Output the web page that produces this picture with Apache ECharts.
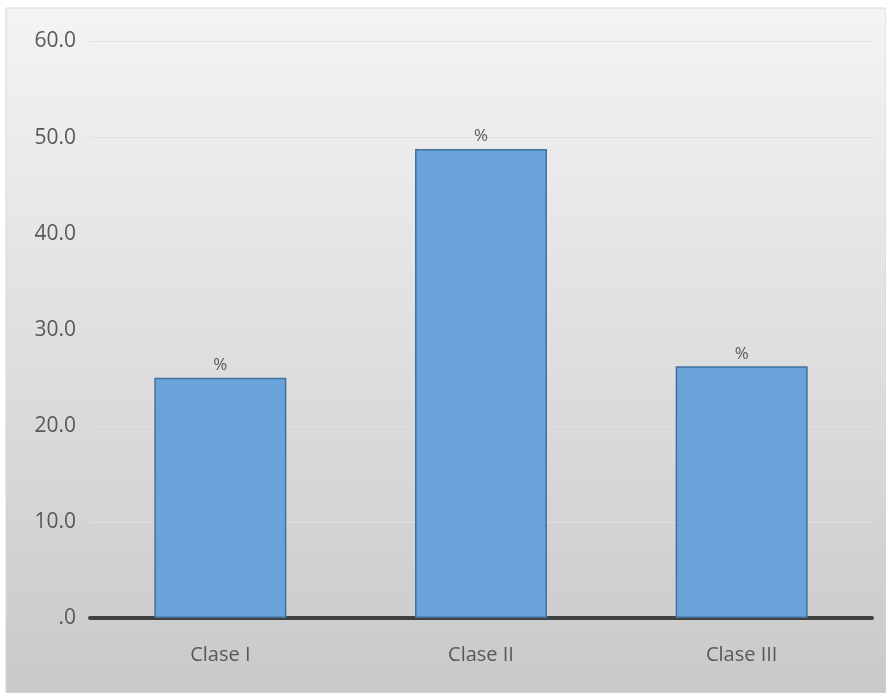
<!DOCTYPE html>
<html>
<head>
<meta charset="utf-8">
<script src="https://cdn.jsdelivr.net/npm/echarts@6/dist/echarts.min.js"></script>
<style>
html,body{margin:0;padding:0;background:#fff;}
#c{width:886px;height:693px;}
</style>
</head>
<body>
<div id="c"></div>
<script>
var categories = ["Clase I", "Clase II", "Clase III"];
var values = [25.0, 48.8, 26.2];
var yTicks = [0, 10, 20, 30, 40, 50, 60];

var chart = echarts.init(document.getElementById('c'), null, {renderer: 'canvas'});
chart.setOption({
  backgroundColor: '#ffffff',
  animation: false,
  graphic: [{
    type: 'rect', z: -10, silent: true,
    shape: {x: 6, y: 8, width: 880, height: 685},
    style: {
      fill: {type: 'linear', x: 0, y: 0, x2: 0, y2: 1, colorStops: [
        {offset: 0, color: '#f4f4f4'}, {offset: 1, color: '#c9c9c9'}
      ]},
      stroke: '#d6d6d6', lineWidth: 1
    }
  }],
  grid: {left: 90, right: 14, top: 41.5, bottom: 75, containLabel: false},
  xAxis: {
    type: 'category', data: categories,
    axisLine: {show: true, lineStyle: {color: '#404040', width: 4}},
    axisTick: {show: false},
    axisLabel: {color: '#595959', fontSize: 20, fontFamily: 'Open Sans', margin: 27}
  },
  yAxis: {
    type: 'value', min: yTicks[0], max: yTicks[yTicks.length - 1], interval: 10,
    axisLine: {show: false}, axisTick: {show: false},
    splitLine: {lineStyle: {color: '#e0e0e0', width: 1}},
    axisLabel: {
      color: '#595959', fontSize: 21, fontFamily: 'Open Sans', margin: 14,
      formatter: function (v) { return v === 0 ? '.0' : v.toFixed(1); }
    }
  },
  series: [{
    type: 'bar', data: values, barWidth: 132,
    itemStyle: {color: '#69a3d9', borderColor: '#41719c', borderWidth: 1.5},
    label: {show: true, position: 'top', formatter: '%', color: '#595959', fontSize: 17, fontFamily: 'Open Sans', distance: 4}
  }]
});
</script>
</body>
</html>
